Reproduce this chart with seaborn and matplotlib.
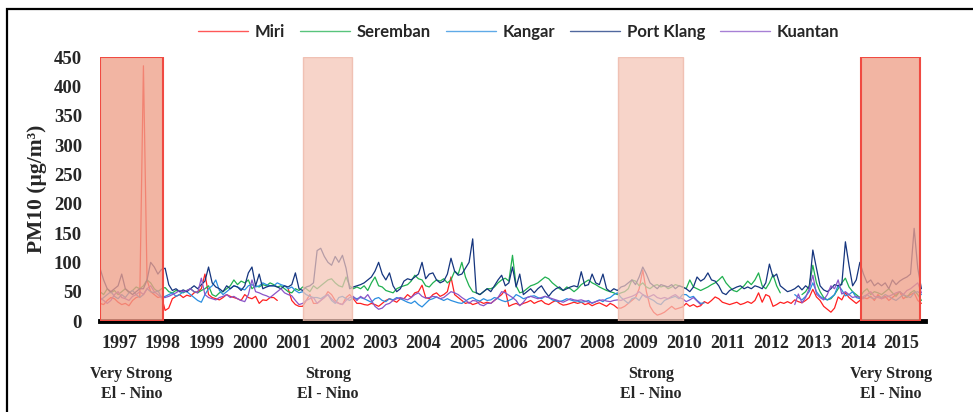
import numpy as np
import pandas as pd
import matplotlib
matplotlib.use("Agg")
import matplotlib.pyplot as plt
import matplotlib.transforms as mtransforms
from matplotlib.colors import to_rgba
from matplotlib.patches import Rectangle
import seaborn as sns

nan = np.nan

# monthly PM10, Jan 1997 - Dec 2015 (one row per year)
miri = [
    30, 28, 35, 40, 38, 32, 28, 30, 26, 35, 40, 42,
    435, 70, 50, 45, 40, 42, 18, 22, 38, 42, 45, 40,
    44, 42, 48, 50, 55, 80, 45, 40, 38, 36, 40, 45,
    42, 40, 38, 35, 45, 40, 38, 42, 30, 36, 35, 40,
    40, 35, nan, nan, 55, 35, 28, 25, 25, 35, 45, 30,
    30, 35, 40, 50, 45, 35, 30, 28, 40, 45, 38, 30,
    30, 28, 27, 30, 28, 25, 30, 35, 38, 35, 32, 38,
    38, 45, 40, 48, 50, 61, 40, 38, 45, 48, 42, 45,
    50, 75, 45, 40, 35, 30, 32, 28, 30, 33, 30, 32,
    30, 35, 40, 45, 53, 25, 28, 30, 27, 30, 32, 35,
    30, 33, 35, 30, 28, 32, 35, 30, 27, 28, 30, 32,
    30, 32, 28, 30, 26, 29, 31, 28, 25, 30, 27, 22,
    22, 25, 30, 35, 40, 55, 87, 50, 25, 15, 10, 12,
    15, 20, 25, 20, 22, 24, 30, 25, 28, 24, 26, 33,
    30, 35, 41, 38, 32, 30, 28, 30, 32, 28, 30, 33,
    30, 35, 48, 32, 45, 42, 25, 28, 32, 30, 33, 30,
    36, 33, 31, 35, 40, 54, 41, 35, 25, 20, 15, 22,
    41, 36, 48, 40, 35, 30, 35, 40, 38, 42, 35, 45,
    38, 42, 35, 40, 45, 50, 38, 42, 45, 48, 35, 30,
]
seremban = [
    50, 45, 55, 48, 52, 45, 50, 55, 48, 52, 58, 55,
    60, 70, 65, 55, 50, 55, 57, 50, 48, 52, 50, 48,
    52, 55, 50, 48, 52, 55, 60, 45, 42, 48, 50, 55,
    60, 70, 62, 68, 65, 70, 55, 60, 58, 62, 60, 65,
    62, 58, 60, 55, 50, 48, 55, 52, 58, 55, 50, 60,
    55, 60, 65, 70, 72, 65, 60, 58, 75, 60, 55, 58,
    55, 60, 52, 65, 75, 60, 58, 52, 50, 48, 55, 58,
    60, 62, 68, 78, 72, 70, 60, 58, 65, 70, 68, 72,
    65, 70, 85, 80, 100, 75, 60, 50, 48, 45, 50, 55,
    55, 58, 65, 70, 73, 68, 112, 60, 48, 50, 55, 60,
    62, 65, 70, 75, 72, 65, 60, 55, 52, 58, 55, 50,
    55, 62, 66, 70, 65, 62, 58, 55, 52, 50, 48, 45,
    48, 50, 55, 70, 68, 60, 65, 58, 55, 60, 62, 58,
    60, 55, 58, 62, 60, 58, 55, 70, 58, 55, 52, 55,
    58, 62, 65, 70, 76, 65, 58, 52, 50, 55, 60, 68,
    62, 70, 82, 60, 55, 65, 79, 60, 48, nan, nan, nan,
    nan, nan, 45, 50, 60, 95, 65, 50, 40, 36, 38, 45,
    55, 65, 73, 58, 50, 45, 40, 50, 55, 45, 50, 48,
    45, 50, 55, 48, 42, 50, 45, 40, 48, 52, 45, 35,
]
kangar = [
    35, 40, 45, 50, 42, 38, 45, 40, 48, 52, 45, 40,
    45, 55, 50, 48, 52, 40, 42, 45, 48, 42, 45, 50,
    50, 45, 40, 35, 32, 45, 55, 60, 70, 52, 45, 50,
    55, 60, 58, 55, 53, 60, 62, 58, 60, 65, 62, 60,
    60, 65, 62, 60, 55, 58, 52, 48, 50, 45, 42, 40,
    40, 38, 42, 45, 35, 30, 40, 42, 38, 35, 40, 38,
    40, 38, 35, 32, 38, 40, 35, 33, 38, 36, 40, 38,
    35, 32, 30, 34, 28, 24, 30, 36, 38, 41, 38, 35,
    38, 35, 33, 31, 30, 34, 38, 40, 36, 34, 38, 35,
    36, 40, 38, 35, 33, 35, 38, 45, 42, 38, 40, 42,
    43, 40, 38, 42, 40, 36, 34, 33, 35, 38, 36, 34,
    34, 32, 33, 35, 30, 33, 36, 33, 38, 40, 45, 48,
    40, 35, 30, 38, 40, 35, 45, 42, 38, 35, 30, 28,
    35, 38, 40, 42, 38, 45, 45, 40, 42, 35, 30, 31,
    nan, nan, nan, nan, nan, nan, nan, nan, nan, nan, nan, nan,
    nan, nan, nan, nan, nan, nan, nan, nan, nan, nan, nan, nan,
    45, 40, 36, 42, 50, 65, 50, 42, 38, 36, 40, 45,
    61, 53, 43, 45, 50, 40, 38, 42, 45, 40, 38, 42,
    40, 45, 42, 38, 35, 40, 45, 42, 40, 48, 50, 45,
]
port_klang = [
    90, 70, 55, 50, 55, 60, 80, 55, 50, 45, 50, 55,
    55, 70, 100, 92, 80, 88, 90, 62, 52, 55, 50, 53,
    50, 55, 60, 55, 62, 68, 92, 65, 58, 55, 50, 60,
    55, 60, 58, 52, 60, 82, 92, 60, 80, 55, 58, 60,
    60, 58, 55, 60, 58, 62, 82, 55, 52, 58, 60, 65,
    120, 124, 110, 100, 95, 110, 100, 112, 90, 55, 58, 60,
    62, 65, 70, 75, 85, 100, 80, 70, 82, 60, 50, 55,
    68, 72, 70, 75, 80, 100, 72, 80, 82, 70, 65, 68,
    80, 107, 85, 78, 80, 90, 100, 140, 48, 45, 50, 55,
    50, 60, 70, 78, 60, 65, 92, 58, 80, 45, 50, 55,
    48, 55, 60, 50, 42, 50, 55, 58, 52, 55, 58, 60,
    58, 84, 60, 62, 80, 65, 62, 80, 55, 50, 55, 52,
    58, 60, 65, 70, 62, 75, 92, 80, 65, 60, 55, 62,
    60, 58, 62, 55, 60, 58, 55, 50, 58, 75, 68, 72,
    82, 70, 68, 60, 48, 45, 52, 55, 58, 60, 55, 58,
    55, 60, 58, 55, 65, 97, 75, 80, 60, 55, 50, 52,
    55, 60, 53, 60, 55, 121, 90, 60, 53, 50, 55, 62,
    60, 62, 135, 95, 60, 70, 100, 80, 65, 70, 60, 65,
    60, 65, 55, 70, 62, 68, 72, 75, 80, 158, 90, 55,
]
kuantan = [
    40, 35, 30, 35, 45, 50, 40, 38, 35, 42, 45, 50,
    45, 55, 60, 50, 45, 40, 40, 42, 45, 48, 52, 50,
    52, 55, 50, 48, 73, 45, 40, 38, 36, 40, 42, 45,
    40, 42, 38, 35, 33, 45, 70, 50, 48, 45, 43, 40,
    45, 50, 55, 48, 45, 43, 35, 28, 30, 35, 38, 40,
    30, 35, 40, 45, 38, 32, 30, 28, 35, 40, 42, 35,
    42, 38, 45, 35, 25, 20, 22, 28, 30, 35, 38, 40,
    38, 36, 40, 45, 48, 42, 39, 40, 42, 41, 38, 40,
    45, 50, 48, 45, 40, 36, 30, 35, 34, 28, 26, 30,
    30, 35, 40, 50, 48, 44, 40, 35, 26, 32, 40, 42,
    40, 38, 40, 42, 40, 38, 36, 34, 32, 35, 38, 36,
    35, 36, 34, 32, 31, 33, 35, 36, 34, 33, 35, 36,
    35, 38, 40, 42, 45, 50, 45, 40, 42, 45, 40, 38,
    40, 38, 42, 45, 40, 38, 33, 36, 40, 34, 28, nan,
    nan, nan, nan, nan, nan, nan, nan, nan, nan, nan, nan, nan,
    nan, nan, nan, nan, nan, nan, nan, nan, nan, nan, nan, nan,
    28, 46, 31, 40, 55, 78, 46, 40, 36, 45, 60, 55,
    70, 46, 50, 45, 40, 42, 40, 38, 45, 50, 42, 40,
    38, 40, 42, 45, 48, 50, 45, 52, 55, 60, 65, 48,
]

stations = ["Miri", "Seremban", "Kangar", "Port Klang", "Kuantan"]
colors = ["#ff2020", "#20b050", "#2a8ee0", "#15357e", "#8a55c8"]
years = list(range(1997, 2016))

# El Nino periods (fractional years)
nino_start = [1997.0, 2001.68, 2008.94, 2014.53]
nino_end = [1998.45, 2002.81, 2010.43, 2015.89]
nino_labels = ["Very Strong\nEl - Nino", "Strong\nEl - Nino",
               "Strong\nEl - Nino", "Very Strong\nEl - Nino"]
nino_very = [True, False, False, True]

# long table, a new segment after every gap so the lines break there
rows = []
for name, vals in zip(stations, [miri, seremban, kangar, port_klang, kuantan]):
    seg = 0
    for i, v in enumerate(vals):
        if np.isnan(v):
            seg += 1
            continue
        rows.append({"time": 1997 + i / 12, "PM10": v, "station": name, "seg": seg})
df = pd.DataFrame(rows)

sns.set_style("white")
serif = "Liberation Serif"

fig = plt.figure(figsize=(9.73, 4.12), dpi=100)
ax = fig.add_axes([100 / 973, 1 - 321 / 412, 825 / 973, 264 / 412])

sns.lineplot(data=df, x="time", y="PM10", hue="station", units="seg", estimator=None,
             hue_order=stations, palette=colors, linewidth=0.9, ax=ax)

# shaded El Nino boxes drawn over the lines
for s, e, very in zip(nino_start, nino_end, nino_very):
    if very:
        ax.axvspan(s, e, facecolor=to_rgba("#efa08a", 0.78), edgecolor="#f04a42",
                   linewidth=1.5, zorder=4)
    else:
        ax.axvspan(s, e, facecolor=to_rgba("#f4c4b5", 0.72), edgecolor=to_rgba("#eeb8a8", 0.8),
                   linewidth=1.0, zorder=4)

ax.set_xlim(1997, 2016)
ax.set_ylim(0, 450)
ax.set_yticks(range(0, 451, 50))
ax.set_xticks([y + 0.45 for y in years])
ax.set_xticklabels([str(y) for y in years])
ax.tick_params(axis="both", length=0)
ax.tick_params(axis="y", pad=13)
ax.tick_params(axis="x", pad=10)
for lab in ax.get_yticklabels():
    lab.set_fontfamily(serif)
    lab.set_fontweight("bold")
    lab.set_fontsize(13.5)
for lab in ax.get_xticklabels():
    lab.set_fontfamily(serif)
    lab.set_fontweight("bold")
    lab.set_fontsize(13)

ax.set_xlabel("")
ax.set_ylabel("PM10 (µg/m³)", fontfamily=serif, fontweight="bold", fontsize=15.5)
ax.yaxis.set_label_coords(-0.064, 0.5)

sns.despine(ax=ax, left=True)
ax.spines["bottom"].set_linewidth(3.5)
ax.spines["bottom"].set_color("black")
ax.spines["bottom"].set_zorder(3)

# El Nino captions under the year labels
trans = mtransforms.blended_transform_factory(ax.transData, fig.transFigure)
for s, e, lab in zip(nino_start, nino_end, nino_labels):
    ax.text((s + e) / 2, 1 - 384 / 412, lab, transform=trans, ha="center", va="center",
            fontfamily=serif, fontweight="bold", fontsize=11.5, linespacing=1.35)

handles, labels = ax.get_legend_handles_labels()
leg = ax.legend(handles, labels, loc="center", bbox_to_anchor=(519 / 973, 1 - 32 / 412),
                bbox_transform=fig.transFigure, ncol=5, frameon=False,
                handlelength=3.0, handletextpad=0.4, columnspacing=0.9,
                prop={"family": "Lato", "weight": "bold", "size": 12})
for h in leg.get_lines():
    h.set_linewidth(1.0)
    h.set_alpha(0.75)

# outer frame (cut off on the right and bottom, as in the original)
fig.patches.append(Rectangle((7 / 973, -0.1), 1.2, 1.1 - 9 / 412, transform=fig.transFigure,
                             fill=False, edgecolor="black", linewidth=1.6))

fig.savefig("out.png", dpi=100)
